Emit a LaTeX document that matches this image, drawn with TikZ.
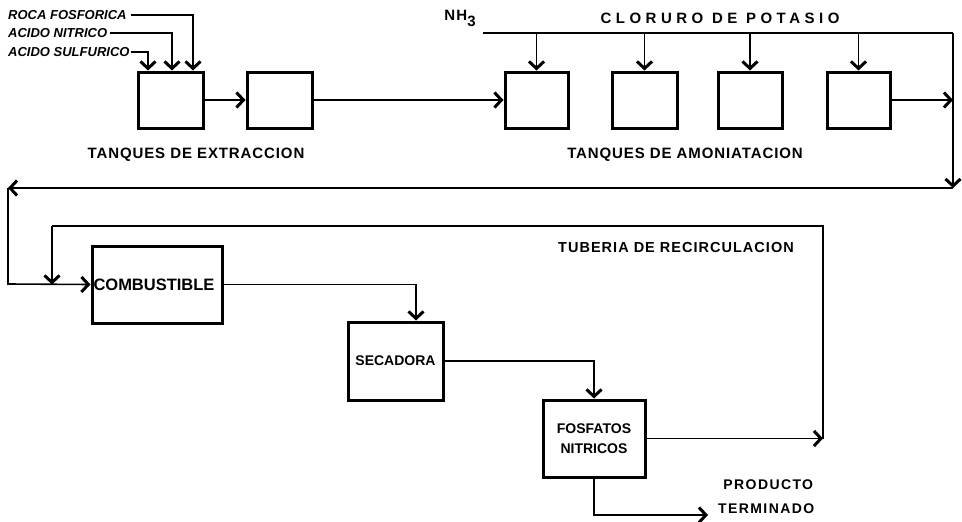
\documentclass[tikz,border=0pt]{standalone}
\usepackage{fontspec}
\setmainfont{Liberation Sans}
\usetikzlibrary{arrows.meta,calc}
\begin{document}
\begin{tikzpicture}[x=1pt,y=-1pt,
  flow/.style={line width=1.6pt,-{Straight Barb[length=7pt,width=15pt,line width=3pt]}},
  pipe/.style={line width=1.6pt},
  tank/.style={draw,line width=3pt,minimum width=64pt,minimum height=56pt,inner sep=0pt},
  unit/.style={draw,line width=3pt,inner sep=0pt,align=center},
  lab/.style={font=\fontsize{15}{17}\selectfont\bfseries\addfontfeature{LetterSpace=6}},
  small/.style={font=\fontsize{13}{14}\selectfont\bfseries\itshape,anchor=west,inner sep=0pt},
  utext/.style={font=\fontsize{14}{15}\selectfont\bfseries}
]
\useasboundingbox (0,0) rectangle (962,522);
% inputs
\node[small] (rf) at (8,15) {ROCA FOSFORICA};
\node[small] (an) at (8,33) {ACIDO NITRICO};
\node[small] (as) at (8,52) {ACIDO SULFURICO};
% extraction tanks
\node[tank,minimum width=65pt] (b1) at (170.5,100) {};
\node[tank,minimum width=65pt] (b2) at (279.5,100) {};
\node[lab] (te) at (196,155) {TANQUES DE EXTRACCION};
\coordinate (rf0) at ([xshift=4]rf.east);
\draw[flow] (rf0) -| ([xshift=22.5]b1.north);
\draw[flow] ([xshift=3]an.east) -| ([xshift=1.5]b1.north);
\draw[flow] ([xshift=1]as.east) -| ([xshift=-22.5]b1.north);
\draw[flow] (b1.east) -- (b2.west);
% ammoniation tanks
\node[tank,minimum width=63pt] (b3) at (536.5,100) {};
\node[tank,minimum width=65pt] (b4) at (644.5,100) {};
\node[tank,minimum width=64pt] (b5) at (750,100) {};
\node[tank,minimum width=63pt] (b6) at (858.5,100) {};
\node[lab] (ta) at (685,155) {TANQUES DE AMONIATACION};
\draw[flow] (b2.east) -- (b3.west);
\node[font=\fontsize{15}{17}\selectfont\bfseries\addfontfeature{LetterSpace=8},inner sep=0pt] (nh) at (460,18) {NH\raisebox{-6pt}{3}};
\node[font=\fontsize{15}{17}\selectfont\bfseries\addfontfeature{LetterSpace=30},inner sep=0pt] (kcl) at (720,18) {CLORURO DE POTASIO};
\coordinate (kl) at (483,33);
\coordinate (kr) at (953,33);
\coordinate (rdn) at (953,188);
\coordinate (rl) at (8,188);
\coordinate (rlb) at (8,284);
\draw[pipe] (kl) -- (kr);
\foreach \b in {b3,b4,b5,b6} \draw[flow] (kl -| \b.north) -- (\b.north);
\draw[flow] (b6.east) -- (kr |- b6.east);
\draw[flow] (kr) -- (rdn);
\draw[flow] (rdn) -- (rl);
% drying section
\node[unit,minimum width=130pt,minimum height=77pt,font=\fontsize{16.5}{17}\selectfont\bfseries,text width=127pt,align=left] (comb) at (157,284.5) {COMBUSTIBLE};
\node[unit,minimum width=95pt,minimum height=78pt,utext] (sec) at (395.5,361) {SECADORA};
\node[unit,minimum width=102pt,minimum height=77pt,font=\fontsize{14}{20}\selectfont\bfseries] (fos) at (594,438.5) {FOSFATOS\\NITRICOS};
\draw[flow] (rl) -- (rlb) -- (comb.west);
\coordinate (rc1) at (52,226);
\coordinate (rc2) at (823,226);
\coordinate (rc3) at (823,438.5);
\node[font=\fontsize{14.5}{16}\selectfont\bfseries\addfontfeature{LetterSpace=7},anchor=west,inner sep=0pt] (tub) at (558,248) {TUBERIA DE RECIRCULACION};
\draw[flow] (fos.east) -- (rc3);
\draw[pipe] (rc3) -- (rc2) -- (rc1);
\draw[flow] (rc1) -- (rc1 |- comb.west);
\draw[flow] (comb.east) -| ([xshift=20.5]sec.north);
\draw[flow] (sec.east) -| (fos.north);
\coordinate (pt) at (708,515);
\draw[flow] (fos.south) |- (pt);
\node[font=\fontsize{14}{24}\selectfont\bfseries\addfontfeature{LetterSpace=10},align=left,anchor=west,inner sep=0pt] (prod) at (718,497) {\ PRODUCTO\\TERMINADO};
\end{tikzpicture}
\end{document}
